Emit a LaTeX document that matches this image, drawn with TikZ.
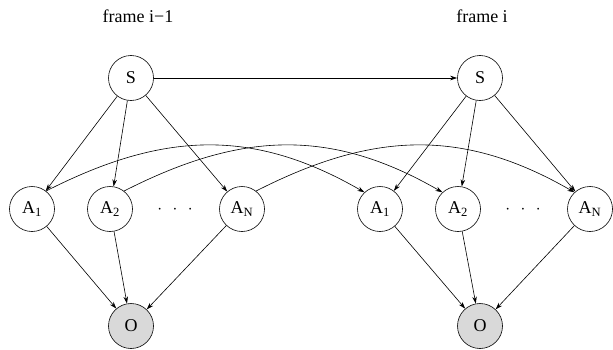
\documentclass[tikz,border=0pt]{standalone}
\usepackage{fontspec}
\setmainfont{Liberation Serif}
\usetikzlibrary{arrows.meta}

\begin{document}
\begin{tikzpicture}[x=1pt,y=1pt,line width=0.6pt,
    font=\fontsize{18}{20}\selectfont,
    var/.style={circle,draw,inner sep=0pt,minimum size=45pt},
    obs/.style={var,fill=gray!30},
    >={Stealth[length=7pt,width=4.5pt]}]

\useasboundingbox (0,0) rectangle (613,349);

\node[anchor=base] (f1) at (138,326.5) {frame i−1};
\node[anchor=base] (f2) at (482,326.5) {frame i};

% frame i-1
\node[var] (s1) at (131,271) {S};
\node[var] (a1) at (32,140) {A\textsubscript{1}};
\node[var] (a2) at (110,140) {A\textsubscript{2}};
\node[var] (an) at (242,140) {A\textsubscript{N}};
\node (d1) at (175,139) {$\cdot$\hspace{10.5pt}$\cdot$\hspace{10.5pt}$\cdot$};
\node[obs] (o1) at (131,23) {O};

% frame i
\node[var] (s2) at (480,271) {S};
\node[var] (b1) at (380,140) {A\textsubscript{1}};
\node[var] (b2) at (458,140) {A\textsubscript{2}};
\node[var] (bn) at (590,140) {A\textsubscript{N}};
\node (d2) at (523,139) {$\cdot$\hspace{10.5pt}$\cdot$\hspace{10.5pt}$\cdot$};
\node[obs] (o2) at (480,23) {O};

\draw[->] (s1) -- (s2);

\foreach \a in {a1,a2,an} {
    \draw[->] (s1) -- (\a);
    \draw[->] (\a) -- (o1);
}
\foreach \b in {b1,b2,bn} {
    \draw[->] (s2) -- (\b);
    \draw[->] (\b) -- (o2);
}

% links from frame i-1 to frame i
\foreach \a/\b in {a1/b1,a2/b2,an/bn}
    \draw[->] (\a.52) .. controls +(27:130) and +(150:130) .. (\b.133);

\end{tikzpicture}
\end{document}
